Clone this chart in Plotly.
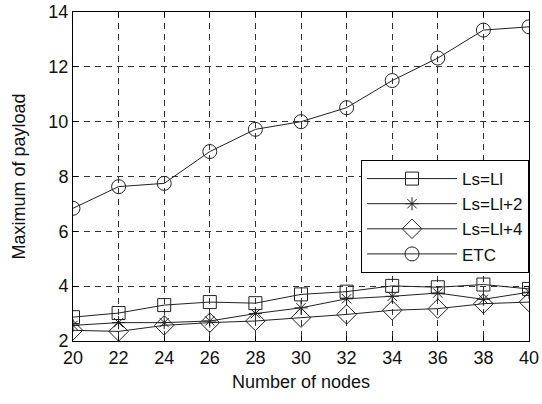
import plotly.graph_objects as go

nodes = [20, 22, 24, 26, 28, 30, 32, 34, 36, 38, 40]
ls_ll = [2.87, 3.02, 3.31, 3.42, 3.38, 3.70, 3.80, 4.01, 3.96, 4.06, 3.90]
ls_ll2 = [2.57, 2.67, 2.67, 2.73, 3.00, 3.21, 3.54, 3.63, 3.75, 3.52, 3.78]
ls_ll4 = [2.39, 2.35, 2.57, 2.67, 2.73, 2.85, 2.97, 3.12, 3.18, 3.36, 3.42]
etc = [6.84, 7.63, 7.75, 8.91, 9.72, 10.0, 10.51, 11.5, 12.32, 13.34, 13.46]

x_ticks = [20, 22, 24, 26, 28, 30, 32, 34, 36, 38, 40]
y_ticks = [2, 4, 6, 8, 10, 12, 14]

series = [
    ("Ls=Ll", ls_ll, "square-open", 13),
    ("Ls=Ll+2", ls_ll2, "asterisk-open", 11),
    ("Ls=Ll+4", ls_ll4, "diamond-open", 15),
    ("ETC", etc, "circle-open", 14),
]

FONT = "Liberation Sans, Arial, sans-serif"

fig = go.Figure()
for name, vals, sym, sz in series:
    fig.add_trace(go.Scatter(
        x=nodes, y=vals, name=name, mode="lines+markers",
        line=dict(color="#222", width=1),
        marker=dict(symbol=sym, size=sz, color="#222", line=dict(width=1, color="#222")),
    ))

axis_common = dict(
    showline=True, linecolor="black", linewidth=1, mirror="ticks",
    showgrid=True, gridcolor="#333", griddash="6px,5px", gridwidth=1,
    ticks="inside", ticklen=5, tickcolor="black",
    tickfont=dict(family=FONT, size=18, color="#111"),
    zeroline=False, automargin=False,
)
fig.update_xaxes(range=[20, 40], tickvals=x_ticks,
                 title=dict(text="Number of nodes", font=dict(family=FONT, size=18, color="#111"), standoff=8),
                 **axis_common)
fig.update_yaxes(range=[2, 14], tickvals=y_ticks,
                 title=dict(text="Maximum of payload", font=dict(family=FONT, size=18, color="#111"), standoff=18),
                 **axis_common)

fig.update_layout(
    width=542, height=404,
    margin=dict(l=73, r=13, t=12, b=63),
    paper_bgcolor="white", plot_bgcolor="white",
    font=dict(family=FONT, size=18, color="#111"),
    legend=dict(x=1, y=0.55, xanchor="right", yanchor="top",
                bgcolor="white", bordercolor="black", borderwidth=1,
                font=dict(family=FONT, size=17), itemwidth=90, tracegroupgap=0,
                itemsizing="trace"),
)

fig.write_html("out.html")
